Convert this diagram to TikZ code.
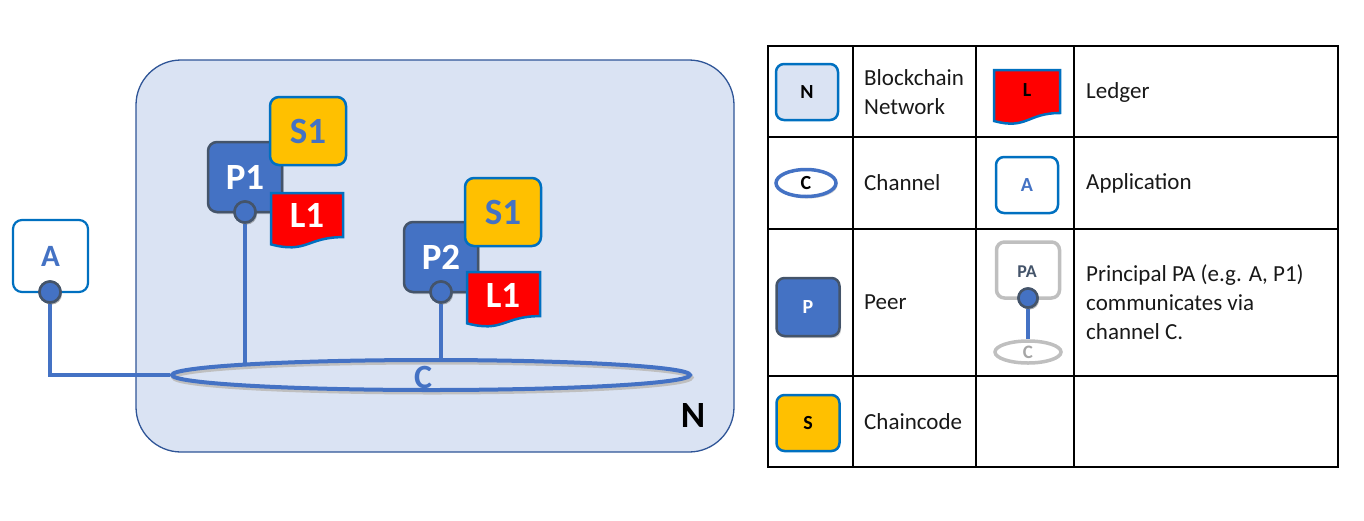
\documentclass[tikz,border=0pt]{standalone}
\usepackage{fontspec}
\setmainfont{Carlito}
\usetikzlibrary{shapes.geometric,calc,shadows}
\definecolor{netfill}{HTML}{DAE3F3}
\definecolor{netline}{HTML}{2F5597}
\definecolor{hblue}{HTML}{4472C4}
\definecolor{slate}{HTML}{44546A}
\definecolor{oblue}{HTML}{0070C0}
\definecolor{gold}{HTML}{FFC000}
\definecolor{lgray}{HTML}{BFBFBF}
\definecolor{mgray}{HTML}{A6A6A6}
\newcommand{\fs}[1]{\fontsize{#1}{#1}\selectfont}
\tikzset{
  shad/.style={drop shadow={opacity=0.3,shadow xshift=1.5pt,shadow yshift=-2pt,fill=black!60}},
  netbox/.style={rounded corners=45pt,fill=netfill,draw=netline,line width=1.3pt},
  appbox/.style={rectangle,rounded corners=9pt,draw=oblue,line width=2.2pt,fill=white,
    minimum width=75pt,minimum height=72pt,text=hblue,font=\bfseries\fs{31}},
  peerbox/.style={rectangle,rounded corners=9pt,fill=hblue,draw=slate,line width=2.5pt,
    minimum width=74pt,minimum height=70pt,text=white,font=\bfseries\fs{37},shad},
  ccbox/.style={rectangle,rounded corners=9pt,fill=gold,draw=oblue,line width=2.5pt,
    minimum width=76pt,minimum height=68pt,text=hblue,font=\bfseries\fs{37}},
  ledgerlbl/.style={text=white,font=\bfseries\fs{37},inner sep=0pt},
  ledgershape/.style={fill=red,draw=oblue,line width=2.5pt},
  port/.style={circle,fill=hblue,draw=slate,line width=2.5pt,minimum size=21pt,inner sep=0pt,shad},
  link/.style={draw=hblue,line width=4pt},
  chan/.style={ellipse,draw=hblue,line width=4pt,minimum width=518pt,minimum height=30pt,inner sep=0pt},
  grid/.style={draw=black,line width=1.5pt},
  legtext/.style={anchor=west,align=left,font=\fontsize{23}{29}\selectfont,text=black!90,inner sep=0pt},
  licon/.style={rectangle,rounded corners=8pt,line width=2.5pt,inner sep=0pt,font=\bfseries\fs{20}},
}
\newcommand{\ledgerpath}[3]{% x1, x2, ytop
  \path[ledgershape] (#1,#3) -- (#2,#3) -- (#2,{#3+0.802*55})
    .. controls ({(#1+#2)/2},{#3+0.802*55}) and ({(#1+#2)/2},{#3+1.107*55}) .. (#1,{#3+0.934*55}) -- cycle;}
\begin{document}
\begin{tikzpicture}[x=1pt,y=-1pt]
\useasboundingbox (0,0) rectangle (1364,520);

% network
\node[netbox,minimum width=598pt,minimum height=392pt,inner sep=0pt] (net) at (435,256) {};
\node[font=\bfseries\fs{37},text=black] (nlabel) at (693,415) {N};

% channel (soft shadow first)
\node[chan,draw=black!25,line width=4pt] (cshadow) at (432.5,377.5) {};
\node[chan] (c) at (431,375) {};
\node[text=hblue,font=\bfseries\fs{34}] (clabel) at (423,377) {C};

% application
\node[appbox] (a) at (50.5,256) {A};
\coordinate (abend) at (50,375);
\node[port] (aport) at (50,292) {};
\draw[link] (aport) -- (abend) -- (c.west);
\node[port] (aport2) at (50,292) {};

% peer 1
\node[peerbox] (p1) at (245,177) {P1};
\node[ccbox] (s1a) at (308,131) {S1};
\ledgerpath{271}{343}{193}
\node[ledgerlbl] (l1a) at (307,215) {L1};
\node[port] (p1port) at (245,212) {};
\draw[link] (p1port) -- (p1port |- c.177);
\node[port] (p1porttop) at (245,212) {};

% peer 2
\node[peerbox] (p2) at (441,257) {P2};
\node[ccbox] (s1b) at (503,212) {S1};
\ledgerpath{467}{540}{272}
\node[ledgerlbl] (l1b) at (503,295) {L1};
\node[port] (p2port) at (441,292) {};
\draw[link] (p2port) -- (p2port |- c.north);
\node[port] (p2porttop) at (441,292) {};

% legend table
\draw[grid] (768,46) rectangle (1338,467);
\draw[grid] (853,46) -- (853,467);
\draw[grid] (976,46) -- (976,467);
\draw[grid] (1074,46) -- (1074,467);
\draw[grid] (768,137) -- (1338,137);
\draw[grid] (768,229) -- (1338,229);
\draw[grid] (768,376) -- (1338,376);

% row 1
\node[licon,fill=netfill,draw=oblue,minimum width=62pt,minimum height=56pt] (ln) at (807,92) {N};
\node[legtext] (tnet) at (864,92) {Blockchain\\Network};
\path[ledgershape] (994,70) -- (1060,70) -- (1060,113)
  .. controls (1027,113) and (1027,130) .. (994,121) -- cycle;
\node[font=\bfseries\fs{20},text=black] (ll) at (1027,90) {L};
\node[legtext] (tled) at (1086,92) {Ledger};

% row 2
\node[ellipse,draw=hblue,line width=3.5pt,fill=white,minimum width=60pt,minimum height=27pt,inner sep=0pt,
  font=\bfseries\fs{20},shad] (lc) at (806,183) {C};
\node[legtext] (tchan) at (864,183) {Channel};
\node[licon,fill=white,draw=oblue,text=hblue,minimum width=62pt,minimum height=56pt] (la) at (1027,185) {A};
\node[legtext] (tapp) at (1086,183) {Application};

% row 3
\node[licon,fill=hblue,draw=slate,text=white,minimum width=63pt,minimum height=58pt,shad] (lp) at (808,307) {P};
\node[legtext] (tpeer) at (864,302) {Peer};
\node[licon,fill=white,draw=lgray,line width=3.5pt,text=slate,minimum width=63pt,minimum height=56pt] (lpa) at (1028,270) {};
\node[font=\bfseries\fs{18},text=slate] (lpatext) at (1027,272) {PA};
\node[ellipse,draw=lgray,line width=3.5pt,fill=white,minimum width=66pt,minimum height=22pt,inner sep=0pt,
  text=mgray,font=\bfseries\fs{19}] (lpc) at (1028,352) {C};
\node[port,minimum size=19pt] (lpaport) at (1028,298) {};
\draw[draw=hblue,line width=3.5pt] (lpaport) -- (lpc.north);
\node[port,minimum size=19pt] (lpaport2) at (1028,298) {};
\node[legtext] (tpa) at (1086,302) {Principal PA (e.g. A, P1)\\communicates via\\channel C.};

% row 4
\node[licon,fill=gold,draw=oblue,text=black,minimum width=63pt,minimum height=56pt] (ls) at (808,423) {S};
\node[legtext] (tcc) at (864,422) {Chaincode};
\end{tikzpicture}
\end{document}
